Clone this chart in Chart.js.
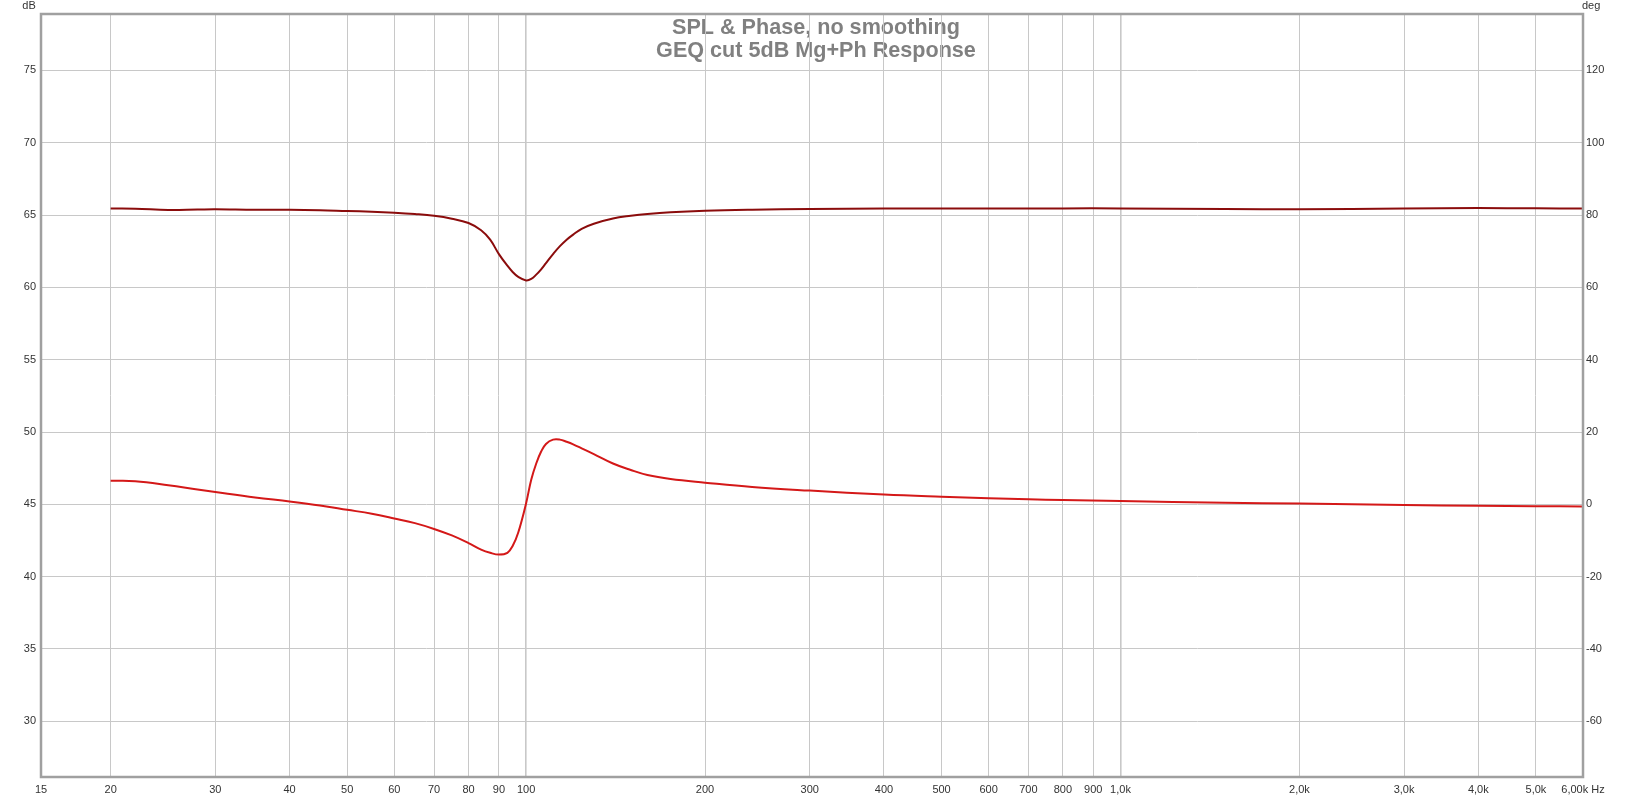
<!DOCTYPE html>
<html>
<head>
<meta charset="utf-8">
<title>SPL &amp; Phase, no smoothing</title>
<script src="https://cdn.jsdelivr.net/npm/chart.js@4.4.1/dist/chart.umd.min.js"></script>
<style>
  html, body { margin: 0; padding: 0; background: #fff; }
  #wrap { width: 1632px; height: 798px; }
</style>
</head>
<body>
<div id="wrap"><canvas id="splChart" width="1632" height="798"></canvas></div>
<script>
// frequency points (Hz)
const freqs = [20, 22, 25, 28, 30, 35, 40, 45, 50, 55, 60, 65, 70, 75, 80, 84, 87, 90, 93, 95, 97, 100,
  102, 104, 106, 108, 111, 114, 117, 120, 124, 130, 140, 150, 160, 175, 200, 240, 300, 400, 500, 600,
  700, 800, 1000, 1500, 2000, 3000, 4000, 5000, 6000];

// magnitude, dB (left axis)
const splDb = [65.45, 65.44, 65.35, 65.38, 65.4, 65.36, 65.37, 65.34, 65.28, 65.23, 65.16, 65.07, 64.95, 64.75,
  64.45, 63.95, 63.3, 62.3, 61.5, 61.05, 60.72, 60.48,
  60.58, 60.88, 61.25, 61.68, 62.3, 62.85, 63.3, 63.65, 64.05, 64.4, 64.76, 64.95, 65.08, 65.2, 65.3, 65.37,
  65.42, 65.45, 65.46, 65.46, 65.46, 65.46, 65.46, 65.42, 65.4, 65.45, 65.48, 65.47, 65.45];

// phase, degrees (right axis)
const phaseDeg = [6.5, 6.4, 5.3, 4.1, 3.4, 1.9, 0.8, -0.3, -1.5, -2.6, -3.9, -5.2, -6.8, -8.6, -10.7, -12.5,
  -13.4, -13.9, -13.4, -11.4, -7.8, 0.3,
  6.8, 11.3, 14.6, 16.7, 17.9, 17.9, 17.3, 16.6, 15.5, 13.9, 11.3, 9.5, 8.1, 7.0, 6.0, 4.8, 3.8, 2.7, 2.1,
  1.7, 1.4, 1.2, 0.9, 0.45, 0.2, -0.2, -0.4, -0.5, -0.6];

const X_MIN = 15.27;
const X_MAX = 6000;
const xTickValues = [X_MIN, 20, 30, 40, 50, 60, 70, 80, 90, 100, 200, 300, 400, 500, 600, 700, 800, 900,
  1000, 2000, 3000, 4000, 5000, 6000];
const xTickLabels = ["15", "20", "30", "40", "50", "60", "70", "80", "90", "100", "200", "300", "400", "500",
  "600", "700", "800", "900", "1,0k", "2,0k", "3,0k", "4,0k", "5,0k", "6,00k Hz"];
const dbTicks = [30, 35, 40, 45, 50, 55, 60, 65, 70, 75];
const degTicks = [-60, -40, -20, 0, 20, 40, 60, 80, 100, 120];

const titleLines = ["SPL & Phase, no smoothing", "GEQ cut 5dB Mg+Ph Response"];

const tickFont = { family: "'Liberation Sans', Arial, sans-serif", size: 11 };
const gridColor = "#c8c8c8";

// title sits inside the plot, under the grid
const titlePlugin = {
  id: "rewTitle",
  beforeDraw(chart) {
    const ctx = chart.ctx;
    ctx.save();
    ctx.fillStyle = "#808080";
    ctx.font = "bold 21.6px 'Liberation Sans', Arial, sans-serif";
    ctx.textAlign = "center";
    ctx.textBaseline = "alphabetic";
    ctx.fillText(titleLines[0], 816, 34);
    ctx.fillText(titleLines[1], 816, 57);
    ctx.restore();
  },
  afterDraw(chart) {
    const ctx = chart.ctx;
    const a = chart.chartArea;
    ctx.save();
    // plot frame
    ctx.strokeStyle = "#a0a0a0";
    ctx.lineWidth = 2.5;
    ctx.strokeRect(a.left, a.top, a.right - a.left, a.bottom - a.top);
    // unit labels
    ctx.fillStyle = "#333";
    ctx.font = "11px 'Liberation Sans', Arial, sans-serif";
    ctx.textBaseline = "alphabetic";
    ctx.textAlign = "center";
    ctx.fillText("dB", 29, 9);
    ctx.textAlign = "left";
    ctx.fillText("deg", 1582, 9);
    ctx.restore();
  },
};

const splChart = new Chart(document.getElementById("splChart").getContext("2d"), {
  type: "line",
  data: {
    datasets: [
      {
        label: "SPL",
        data: freqs.map((f, i) => ({ x: f, y: splDb[i] })),
        borderColor: "#8b0c0c",
        borderWidth: 2,
        pointRadius: 0,
        tension: 0.4,
        yAxisID: "yDb",
      },
      {
        label: "Phase",
        data: freqs.map((f, i) => ({ x: f, y: phaseDeg[i] })),
        borderColor: "#d41818",
        borderWidth: 2,
        pointRadius: 0,
        tension: 0.4,
        yAxisID: "yDeg",
      },
    ],
  },
  options: {
    responsive: false,
    animation: false,
    layout: { padding: { top: 14, left: 0, right: 0, bottom: 0 } },
    plugins: {
      legend: { display: false },
      tooltip: { enabled: false },
      title: { display: false },
    },
    scales: {
      x: {
        type: "logarithmic",
        min: X_MIN,
        max: X_MAX,
        afterBuildTicks: (axis) => {
          axis.ticks = xTickValues.map((v) => ({ value: v }));
        },
        afterFit: (axis) => {
          axis.height = 21;
        },
        border: { display: false },
        grid: {
          drawTicks: false,
          color: (c) => (c.index === 0 || c.index === xTickValues.length - 1 ? "rgba(0,0,0,0)" : gridColor),
          lineWidth: (c) => (c.tick && (c.tick.value === 100 || c.tick.value === 1000) ? 1.6 : 1),
        },
        ticks: {
          autoSkip: false,
          maxRotation: 0,
          padding: 6,
          color: "#333",
          font: tickFont,
          callback: (value, index) => xTickLabels[index],
        },
      },
      yDb: {
        type: "linear",
        position: "left",
        min: 26.15,
        max: 78.9,
        afterBuildTicks: (axis) => {
          axis.ticks = dbTicks.map((v) => ({ value: v }));
        },
        afterFit: (axis) => {
          axis.width = 41;
        },
        border: { display: false },
        grid: { drawTicks: false, color: gridColor, lineWidth: 1 },
        ticks: { padding: 5, color: "#333", font: tickFont },
      },
      yDeg: {
        type: "linear",
        position: "right",
        min: -75.4,
        max: 135.6,
        afterBuildTicks: (axis) => {
          axis.ticks = degTicks.map((v) => ({ value: v }));
        },
        afterFit: (axis) => {
          axis.width = 49;
        },
        border: { display: false },
        grid: { drawOnChartArea: false, drawTicks: false },
        ticks: { padding: 3, color: "#333", font: tickFont },
      },
    },
  },
  plugins: [titlePlugin],
});
</script>
</body>
</html>
